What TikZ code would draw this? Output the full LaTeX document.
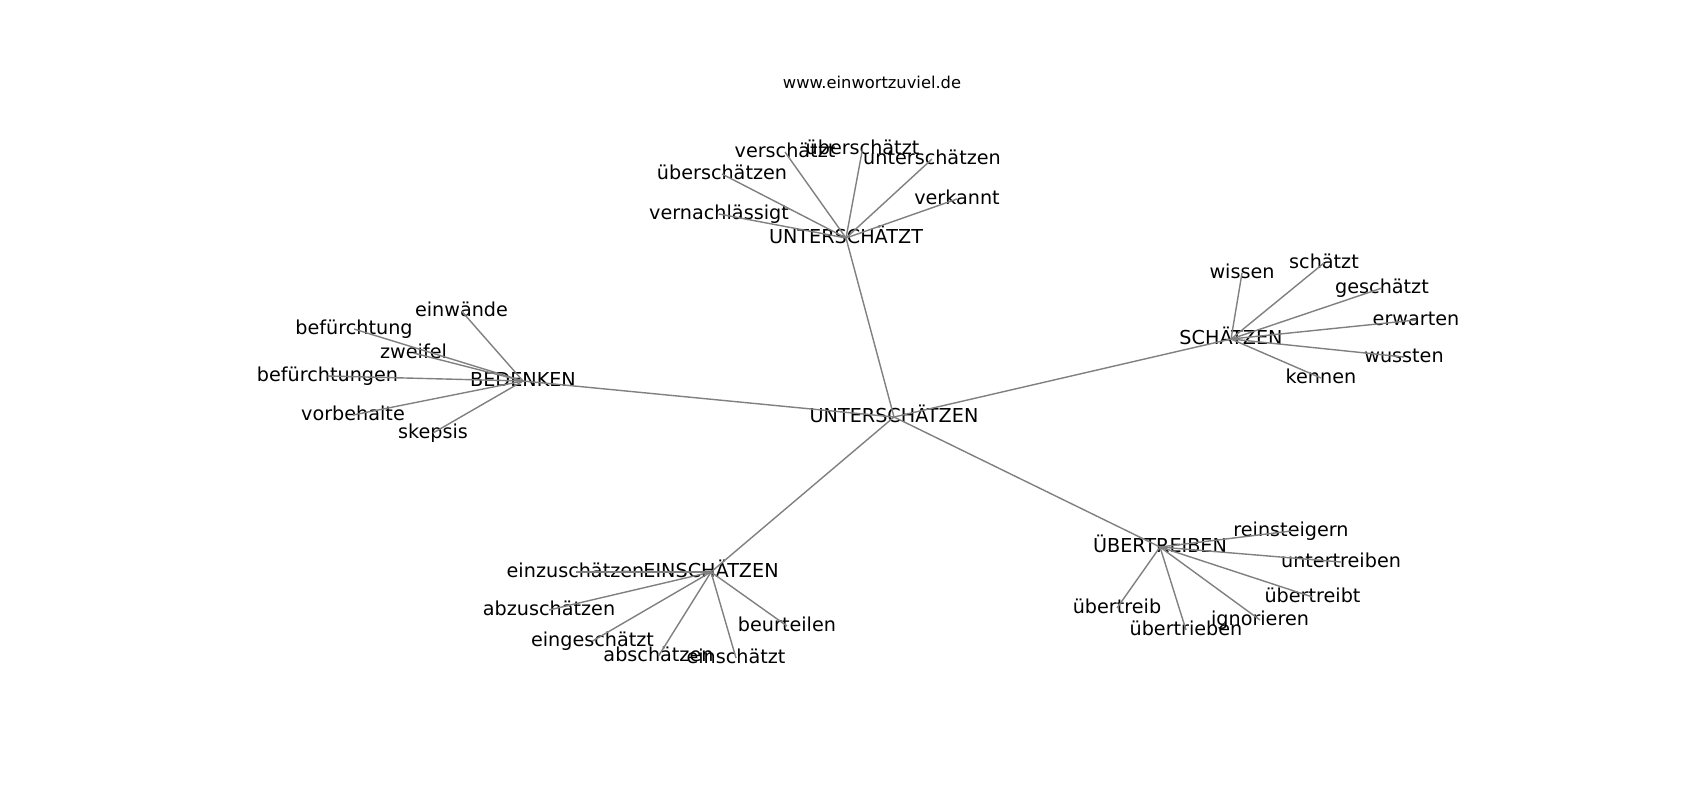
\documentclass[tikz,border=0pt]{standalone}
\usepackage{fontspec}
\setmainfont{DejaVu Sans}
\begin{document}
\begin{tikzpicture}[x=0.5pt,y=-0.5pt,
  lab/.style={inner sep=0pt, outer sep=0pt, font=\fontsize{9.6}{11}\selectfont, text height=0.76em, text depth=0.24em, anchor=center, text=black},
  edge/.style={draw=gray, line width=0.7pt},
  ttl/.style={inner sep=0pt, font=\fontsize{8.15}{10}\selectfont, anchor=base, text=black}]
\useasboundingbox (0,0) rectangle (1700,800);
\fill[white] (0,0) rectangle (1700,800);
\node[ttl] (title) at (872,88) {www.einwortzuviel.de};
% hubs
\node[lab] (c) at (894,417) {UNTERSCHÄTZEN};
\node[lab] (t) at (846,238) {UNTERSCHÄTZT};
\node[lab] (b) at (523,381) {BEDENKEN};
\node[lab] (s) at (1231,339) {SCHÄTZEN};
\node[lab] (e) at (711,572) {EINSCHÄTZEN};
\node[lab] (u) at (1160,547) {ÜBERTREIBEN};
% leaves
\node[lab] (t1) at (785,152) {verschätzt};
\node[lab] (t2) at (862.5,149) {überschätzt};
\node[lab] (t3) at (932,159) {unterschätzen};
\node[lab] (t4) at (722,174) {überschätzen};
\node[lab] (t5) at (957,199) {verkannt};
\node[lab] (t6) at (719,214) {vernachlässigt};
\node[lab] (b1) at (461.5,311) {einwände};
\node[lab] (b2) at (354,329) {befürchtung};
\node[lab] (b3) at (413.5,353) {zweifel};
\node[lab] (b4) at (327.5,376) {befürchtungen};
\node[lab] (b5) at (353,415) {vorbehalte};
\node[lab] (b6) at (433,433) {skepsis};
\node[lab] (s1) at (1242,273) {wissen};
\node[lab] (s2) at (1324,263) {schätzt};
\node[lab] (s3) at (1382,288) {geschätzt};
\node[lab] (s4) at (1416,320) {erwarten};
\node[lab] (s5) at (1404,357) {wussten};
\node[lab] (s6) at (1321,378) {kennen};
\node[lab] (e1) at (575.5,572) {einzuschätzen};
\node[lab] (e2) at (549,610) {abzuschätzen};
\node[lab] (e3) at (787,626) {beurteilen};
\node[lab] (e4) at (592.5,641) {eingeschätzt};
\node[lab] (e5) at (658.5,656) {abschätzen};
\node[lab] (e6) at (736,658) {einschätzt};
\node[lab] (u1) at (1291,531) {reinsteigern};
\node[lab] (u2) at (1341,562) {untertreiben};
\node[lab] (u3) at (1312.5,597) {übertreibt};
\node[lab] (u4) at (1117,608) {übertreib};
\node[lab] (u5) at (1260,620) {ignorieren};
\node[lab] (u6) at (1186,630) {übertrieben};
% edges
\begin{scope}[edge]
\foreach \h in {t,b,s,e,u} \draw (c.center) -- (\h.center);
\foreach \h in {t,b,s,e,u} {
  \foreach \i in {1,...,6} \draw (\h.center) -- (\h\i.center);
}
\end{scope}
\end{tikzpicture}
\end{document}
